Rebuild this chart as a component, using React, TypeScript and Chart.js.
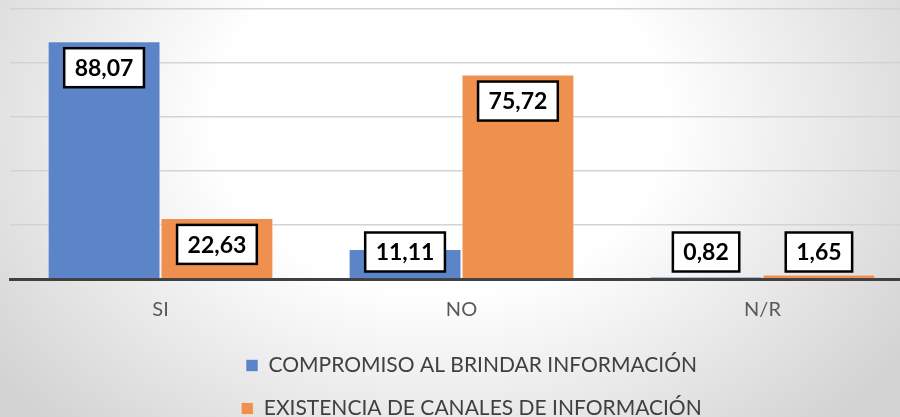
import React, { useEffect, useRef } from "react";
import { Chart, registerables } from "chart.js";

Chart.register(...registerables);

const categories = ["SI", "NO", "N/R"];
const seriesNames = ["COMPROMISO AL BRINDAR INFORMACIÓN", "EXISTENCIA DE CANALES DE INFORMACIÓN"];
const compromiso = [88.07, 11.11, 0.82];
const canales = [22.63, 75.72, 1.65];
const yTicks = [0, 20, 40, 60, 80, 100];

const BLUE = "#5b84c9";
const ORANGE = "#f0904f";

const fmt = (v: number) => v.toFixed(2).replace(".", ",");

const boxLabels = {
  id: "boxLabels",
  afterDatasetsDraw(chart: any) {
    const ctx = chart.ctx;
    const yScale = chart.scales.y;
    const base = yScale.getPixelForValue(0);
    ctx.save();
    ctx.font = "bold 23px Lato";
    ctx.textAlign = "center";
    ctx.textBaseline = "middle";
    chart.data.datasets.forEach((ds: any, di: number) => {
      const meta = chart.getDatasetMeta(di);
      meta.data.forEach((bar: any, i: number) => {
        const v = ds.data[i];
        const text = fmt(v);
        const tw = ctx.measureText(text).width;
        const w = tw + 21;
        const h = 39;
        const cy = Math.min(bar.y + 26.5, base - 27);
        const cx = bar.x;
        ctx.fillStyle = "#ffffff";
        ctx.fillRect(cx - w / 2, cy - h / 2, w, h);
        ctx.strokeStyle = "#000000";
        ctx.lineWidth = 2.5;
        ctx.strokeRect(cx - w / 2, cy - h / 2, w, h);
        ctx.fillStyle = "#000000";
        ctx.fillText(text, cx, cy + 1);
      });
    });
    ctx.restore();
  },
};

export default function App() {
  const ref = useRef<HTMLCanvasElement | null>(null);
  useEffect(() => {
    if (!ref.current) return;
    const chart = new Chart(ref.current, {
      type: "bar",
      data: {
        labels: categories,
        datasets: [
          {
            label: seriesNames[0],
            data: compromiso,
            backgroundColor: BLUE,
            borderColor: "rgba(255,255,255,0.45)",
            borderWidth: 1,
            categoryPercentage: 0.75,
            barPercentage: 1,
          },
          {
            label: seriesNames[1],
            data: canales,
            backgroundColor: ORANGE,
            borderColor: "rgba(255,255,255,0.45)",
            borderWidth: 1,
            categoryPercentage: 0.75,
            barPercentage: 1,
          },
        ],
      },
      options: {
        animation: false,
        responsive: false,
        maintainAspectRatio: false,
        layout: { padding: { left: 10, right: 0, top: 9, bottom: 0 } },
        plugins: {
          tooltip: { enabled: false },
          legend: {
            position: "bottom",
            labels: {
              boxWidth: 12,
              boxHeight: 12,
              padding: 22,
              color: "#404040",
              font: { family: "Lato", size: 21 },
            },
          },
        },
        scales: {
          x: {
            grid: { display: false, drawTicks: false },
            border: { display: true, color: "#404040", width: 3 },
            ticks: {
              color: "#595959",
              font: { family: "Lato", size: 20 },
              padding: 19,
            },
            afterFit: (s: any) => {
              s.height = 54;
            },
          },
          y: {
            position: "right",
            min: 0,
            max: 100,
            afterBuildTicks: (s: any) => {
              s.ticks = yTicks.map((v) => ({ value: v }));
            },
            grid: { color: "#d3d3d3", lineWidth: 1.5, drawTicks: false },
            border: { display: false },
            ticks: { display: false },
            afterFit: (s: any) => {
              s.width = 20;
            },
          },
        },
      },
      plugins: [boxLabels],
    });
    return () => chart.destroy();
  }, []);

  return (
    <div
      style={{
        position: "fixed",
        left: 0,
        top: 0,
        width: 900,
        height: 417,
        overflow: "hidden",
        background:
          "radial-gradient(ellipse 560px 430px at 440px 120px, #ffffff 40%, #d2d2d2 100%)",
      }}
    >
      <canvas ref={ref} width={933} height={429} style={{ display: "block" }} />
    </div>
  );
}
